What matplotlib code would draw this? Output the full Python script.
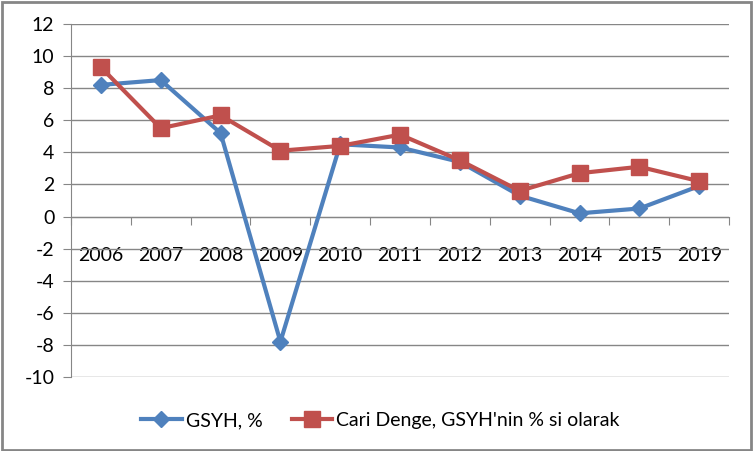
import numpy as np
import matplotlib.pyplot as plt

plt.rcParams['font.family'] = ['Lato', 'DejaVu Sans']
plt.rcParams['axes.unicode_minus'] = False

years = ["2006", "2007", "2008", "2009", "2010", "2011", "2012", "2013", "2014", "2015", "2019"]
gsyh = [8.2, 8.5, 5.2, -7.8, 4.5, 4.3, 3.4, 1.3, 0.2, 0.5, 1.9]
cari = [9.3, 5.5, 6.3, 4.1, 4.4, 5.1, 3.5, 1.6, 2.7, 3.1, 2.2]

blue = "#4F81BD"
red = "#C0504D"
grid_col = "#868686"

fig = plt.figure(figsize=(7.53, 4.51), dpi=100)
ax = fig.add_axes([0.0943, 0.164, 0.874, 0.783])

x = np.arange(len(years))
ax.plot(x, gsyh, color=blue, lw=3, marker="D", ms=8, label="GSYH, %", zorder=3)
ax.plot(x, cari, color=red, lw=3, marker="s", ms=12, label="Cari Denge, GSYH'nin % si olarak", zorder=4)

ax.set_xlim(-0.5, len(years) - 0.5)
ax.set_ylim(-10, 12)
ax.set_yticks(np.arange(-10, 13, 2))
ax.yaxis.grid(True, color=grid_col, lw=1.0)
ax.set_axisbelow(True)

# category axis crosses at zero, ticks between categories
ax.spines['bottom'].set_position(('data', 0))
ax.spines['bottom'].set_color(grid_col)
ax.spines['left'].set_color(grid_col)
ax.spines['top'].set_visible(False)
ax.spines['right'].set_visible(False)
ax.set_xticks(np.arange(-0.5, len(years), 1.0))
ax.set_xticklabels([])
ax.set_xticks(x, minor=True)
ax.set_xticklabels(years, minor=True, fontsize=14)
ax.tick_params(axis='x', which='major', direction='out', length=6, color=grid_col)
ax.tick_params(axis='x', which='minor', length=0, pad=22)
ax.tick_params(axis='y', length=6, color=grid_col, labelsize=14, pad=6)

leg = ax.legend(loc='upper center', bbox_to_anchor=(0.47, -0.05), ncol=2, frameon=False,
                fontsize=14, handlelength=2.1, columnspacing=1.5, handletextpad=0.2)

fig.patches.append(plt.Rectangle((0.002, 0.003), 0.995, 0.993, transform=fig.transFigure,
                                 fill=False, edgecolor=grid_col, lw=2))

fig.savefig("out.png", dpi=100)
